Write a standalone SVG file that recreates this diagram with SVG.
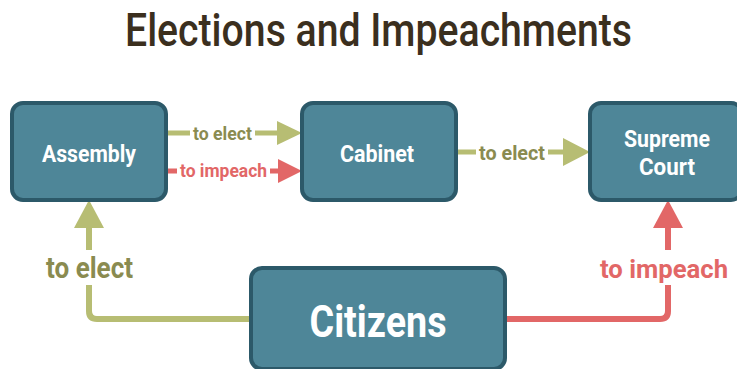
<svg xmlns="http://www.w3.org/2000/svg" width="737" height="369" viewBox="0 0 737 369">
<style>
.node{fill:#4e8698;stroke:#2c5969;stroke-width:4}
.nt{font-family:Roboto,"Liberation Sans",sans-serif;font-weight:bold;fill:#ffffff;text-anchor:middle}
.g{stroke:#b7bd73;fill:none}
.r{stroke:#e26767;fill:none}
.gf{fill:#b7bd73}
.rf{fill:#e26767}
.lg{font-family:Roboto,"Liberation Sans",sans-serif;font-weight:bold;fill:#8a8b50}
.lr{font-family:Roboto,"Liberation Sans",sans-serif;font-weight:bold;fill:#e26767}
</style>
<rect width="737" height="369" fill="#ffffff"/>
<text x="125" y="46" font-family="Roboto,'Liberation Sans',sans-serif" font-weight="500" font-size="47" fill="#3b2f1e" textLength="507" lengthAdjust="spacingAndGlyphs">Elections and Impeachments</text>
<g id="connectors">
<g id="assembly-cabinet-elect">
<path class="g" stroke-width="5" d="M166 133H190M255 133H279"/>
<polygon class="gf" points="277,121 302,133 277,145"/>
<text class="lg" x="193" y="140" font-size="19" textLength="59" lengthAdjust="spacingAndGlyphs">to elect</text>
</g>
<g id="assembly-cabinet-impeach">
<path class="r" stroke-width="5" d="M166 171H177M270 171H280"/>
<polygon class="rf" points="278,159 302,171 278,183"/>
<text class="lr" x="180" y="177" font-size="19" textLength="87" lengthAdjust="spacingAndGlyphs">to impeach</text>
</g>
<g id="cabinet-supreme-elect">
<path class="g" stroke-width="5" d="M456 152H476M548 152H565"/>
<polygon class="gf" points="563,138 590,152 563,166"/>
<text class="lg" x="479" y="160" font-size="21" textLength="66" lengthAdjust="spacingAndGlyphs">to elect</text>
</g>
<g id="citizens-assembly-elect">
<path class="g" stroke-width="6" d="M89 226V250M89 285V311Q89 319 97 319H252"/>
<polygon class="gf" points="74,228 89,200 104,228"/>
<text class="lg" x="46" y="278" font-size="29" textLength="87" lengthAdjust="spacingAndGlyphs">to elect</text>
</g>
<g id="citizens-supreme-impeach">
<path class="r" stroke-width="6" d="M504 319H660Q668 319 668 311V285M668 250V226"/>
<polygon class="rf" points="653,228 668,200 683,228"/>
<text class="lr" x="600" y="278" font-size="26" textLength="128" lengthAdjust="spacingAndGlyphs">to impeach</text>
</g>
</g>
<g id="node-assembly">
<rect class="node" x="12" y="103" width="154" height="97" rx="11"/>
<text class="nt" x="89" y="162" font-size="24" textLength="94" lengthAdjust="spacingAndGlyphs">Assembly</text>
</g>
<g id="node-cabinet">
<rect class="node" x="302" y="103" width="154" height="97" rx="11"/>
<text class="nt" x="377" y="162" font-size="24" textLength="74" lengthAdjust="spacingAndGlyphs">Cabinet</text>
</g>
<g id="node-supreme">
<rect class="node" x="590" y="103" width="152" height="97" rx="11"/>
<text class="nt" x="667" y="147" font-size="23" textLength="86" lengthAdjust="spacingAndGlyphs">Supreme</text>
<text class="nt" x="667" y="175" font-size="23" textLength="56" lengthAdjust="spacingAndGlyphs">Court</text>
</g>
<g id="node-citizens">
<rect class="node" x="251" y="268" width="254" height="101" rx="11"/>
<text class="nt" x="378" y="337" font-size="45" textLength="137" lengthAdjust="spacingAndGlyphs">Citizens</text>
</g>
</svg>
